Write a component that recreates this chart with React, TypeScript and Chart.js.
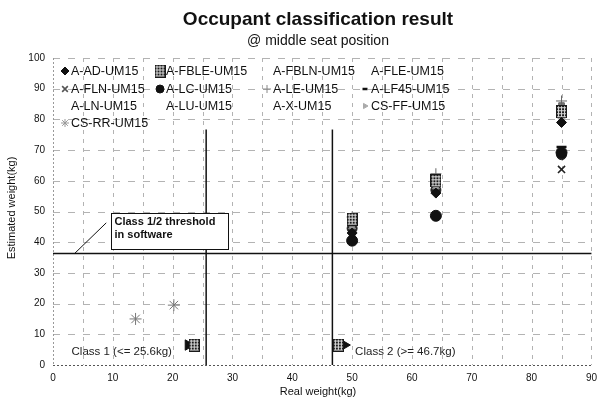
import React, { useEffect, useRef } from 'react';
import { Chart, registerables } from 'chart.js';
import { drawPoint } from 'chart.js/helpers';

Chart.register(...registerables);

// ---------- text ----------
const TITLE = 'Occupant classification result';
const SUBTITLE = '@ middle seat position';
const X_TITLE = 'Real weight(kg)';
const Y_TITLE = 'Estimated weight(kg)';
const NOTE_LINES = ['Class 1/2 threshold', 'in software'];
const CLASS1_TEXT = 'Class 1 (<= 25.6kg)';
const CLASS2_TEXT = 'Class 2 (>= 46.7kg)';

// ---------- axes ----------
const X_MIN = 0;
const X_MAX = 90;
const X_GRID_STEP = 5;
const X_LABEL_STEP = 10;
const Y_MIN = 0;
const Y_MAX = 100;
const Y_STEP = 10;

// ---------- thresholds ----------
const CLASS1_LIMIT = 25.6;
const CLASS2_LIMIT = 46.7;
const SOFTWARE_THRESHOLD = 36.3;
const LIMIT_LINE_TOP = 76.7;

// annotation anchors (data coordinates)
const NOTE_ANCHOR = [9.7, 49.4];
const NOTE_LEADER = [[8.9, 46.3], [3.6, 36.3]];
const CLASS1_ANCHOR = [3.1, 4.2];
const CLASS2_ANCHOR = [50.5, 4.3];

// ---------- series (real weight, estimated weight) ----------
const SERIES_NAMES = [
  'A-AD-UM15', 'A-FBLE-UM15', 'A-FBLN-UM15', 'A-FLE-UM15',
  'A-FLN-UM15', 'A-LC-UM15', 'A-LE-UM15', 'A-LF45-UM15',
  'A-LN-UM15', 'A-LU-UM15', 'A-X-UM15', 'CS-FF-UM15',
  'CS-RR-UM15',
];
const A_AD = [[50, 43], [64, 56], [85, 79]];
const A_FBLE = [[23.6, 6.5], [47.7, 6.5], [50, 47.5], [64, 60], [85, 82.5]];
const A_FBLN = [[50, 46], [64, 59], [85, 83.5]];
const A_FLE = [[50, 45], [64, 58], [85, 81.5]];
const A_FLN = [[50, 44], [64, 57.5], [85, 63.7]];
const A_LC = [[50, 40.5], [64, 48.6], [85, 69.2]];
const A_LE = [[50, 48.2], [64, 62.3], [85, 86]];
const A_LF45 = [[50, 46.5], [64, 61], [85, 71]];
const A_LN = [[50, 45.5], [64, 58.5], [85, 80.5]];
const A_LU = [[50, 44.5], [64, 57], [85, 68.5]];
const A_X = [[50, 42], [64, 59.5], [85, 84.5]];
const CS_FF = [[22.6, 6.5], [48.7, 6.5]];
const CS_RR = [[13.8, 15], [20.2, 19.5]];

const SERIES_DATA = [A_AD, A_FBLE, A_FBLN, A_FLE, A_FLN, A_LC, A_LE, A_LF45, A_LN, A_LU, A_X, CS_FF, CS_RR];

const FONT = '"Liberation Sans", Arial, sans-serif';

function makeHatch(): HTMLCanvasElement {
  const c = document.createElement('canvas');
  c.width = 11;
  c.height = 13;
  const g = c.getContext('2d')!;
  g.fillStyle = '#1a1a1a';
  g.fillRect(0, 0, 11, 13);
  g.fillStyle = '#dcdcdc';
  for (let x = 2; x < 11; x += 3) g.fillRect(x, 1, 1, 11);
  for (let y = 2; y < 13; y += 3) g.fillRect(1, y, 9, 1);
  return c;
}

type Sty = { pointStyle: any; radius: number; fill: string; stroke: string; bw: number; rotation?: number; legend: boolean; lr?: number; lcolor?: string };

function styles(hatch: HTMLCanvasElement): Sty[] {
  return [
    { pointStyle: 'rectRot', radius: 5, fill: '#111', stroke: '#111', bw: 1, legend: true, lr: 4 },
    { pointStyle: hatch, radius: 6, fill: '#111', stroke: '#111', bw: 1, legend: true },
    { pointStyle: 'rect', radius: 3.5, fill: '#8a8a8a', stroke: '#777', bw: 1, legend: false },
    { pointStyle: 'triangle', radius: 4, fill: '#9a9a9a', stroke: '#888', bw: 1, legend: false },
    { pointStyle: 'crossRot', radius: 5, fill: '#222', stroke: '#222', bw: 1.6, legend: true, lr: 4, lcolor: '#555' },
    { pointStyle: 'circle', radius: 5.5, fill: '#111', stroke: '#111', bw: 1, legend: true, lr: 4 },
    { pointStyle: 'cross', radius: 5.5, fill: '#666', stroke: '#666', bw: 1, legend: true, lr: 4, lcolor: '#888' },
    { pointStyle: 'line', radius: 5, fill: '#111', stroke: '#111', bw: 2.5, legend: true, lr: 2.5 },
    { pointStyle: 'rectRot', radius: 4, fill: '#aaa', stroke: '#999', bw: 1, legend: false },
    { pointStyle: 'circle', radius: 5, fill: '#222', stroke: '#222', bw: 1, legend: false },
    { pointStyle: 'rect', radius: 4, fill: '#777', stroke: '#666', bw: 1, legend: false },
    { pointStyle: 'triangle', radius: 6, fill: '#111', stroke: '#111', bw: 1, rotation: 90, legend: true, lr: 3, lcolor: '#aaa' },
    { pointStyle: 'star', radius: 6, fill: '#777', stroke: '#777', bw: 1, legend: true, lr: 4, lcolor: '#999' },
  ];
}

// legend layout (pixels, relative to canvas)
const LEGEND_COL_X = [71, 166, 273, 371];
const LEGEND_ROW_Y = [71, 89, 106, 123];

export default function App() {
  const ref = useRef<HTMLCanvasElement | null>(null);

  useEffect(() => {
    const canvas = ref.current;
    if (!canvas) return;
    const hatch = makeHatch();
    const sty = styles(hatch);

    const datasets = SERIES_NAMES.map((name, i) => ({
      label: name,
      data: SERIES_DATA[i].map(([x, y]) => ({ x, y })),
      showLine: false,
      pointStyle: sty[i].pointStyle,
      pointRadius: sty[i].radius,
      pointRotation: sty[i].rotation || 0,
      backgroundColor: sty[i].fill,
      borderColor: sty[i].stroke,
      pointBorderWidth: sty[i].bw,
    }));

    const decor = {
      id: 'decor',
      beforeDatasetsDraw(chart: any) {
        const { ctx, chartArea: a, scales: { x, y } } = chart;
        ctx.save();
        // dashed grid
        ctx.strokeStyle = '#b3b3b3';
        ctx.lineWidth = 1;
        ctx.setLineDash([4, 5]);
        for (let v = X_MIN + X_GRID_STEP; v <= X_MAX; v += X_GRID_STEP) {
          const px = Math.round(x.getPixelForValue(v)) + 0.5;
          ctx.beginPath();
          ctx.moveTo(px, a.top);
          ctx.lineTo(px, a.bottom);
          ctx.stroke();
        }
        ctx.setLineDash([7, 8]);
        for (let v = Y_MIN + Y_STEP; v <= Y_MAX; v += Y_STEP) {
          const py = Math.round(y.getPixelForValue(v)) + 0.5;
          ctx.beginPath();
          ctx.moveTo(a.left, py);
          ctx.lineTo(a.right, py);
          ctx.stroke();
        }
        // axis lines (dotted)
        ctx.setLineDash([2, 2]);
        ctx.strokeStyle = '#999';
        const lx = Math.round(a.left) + 0.5;
        ctx.beginPath();
        ctx.moveTo(lx, a.top);
        ctx.lineTo(lx, a.bottom);
        ctx.stroke();
        ctx.strokeStyle = '#555';
        const by = Math.round(a.bottom) + 0.5;
        ctx.beginPath();
        ctx.moveTo(a.left, by);
        ctx.lineTo(a.right, by);
        ctx.stroke();

        // thresholds
        ctx.setLineDash([]);
        ctx.strokeStyle = '#111';
        ctx.lineWidth = 1.5;
        [CLASS1_LIMIT, CLASS2_LIMIT].forEach((v) => {
          const px = x.getPixelForValue(v);
          ctx.beginPath();
          ctx.moveTo(px, y.getPixelForValue(LIMIT_LINE_TOP));
          ctx.lineTo(px, y.getPixelForValue(Y_MIN));
          ctx.stroke();
        });
        const ty = y.getPixelForValue(SOFTWARE_THRESHOLD);
        ctx.beginPath();
        ctx.moveTo(a.left, ty);
        ctx.lineTo(a.right, ty);
        ctx.stroke();
        ctx.restore();
      },
      afterDatasetsDraw(chart: any) {
        const { ctx, scales: { x, y } } = chart;
        ctx.save();
        ctx.strokeStyle = '#111';
        ctx.lineWidth = 1;
        ctx.beginPath();
        ctx.moveTo(x.getPixelForValue(NOTE_LEADER[0][0]), y.getPixelForValue(NOTE_LEADER[0][1]));
        ctx.lineTo(x.getPixelForValue(NOTE_LEADER[1][0]), y.getPixelForValue(NOTE_LEADER[1][1]));
        ctx.stroke();
        const bx = Math.round(x.getPixelForValue(NOTE_ANCHOR[0])) + 0.5;
        const by = Math.round(y.getPixelForValue(NOTE_ANCHOR[1])) + 0.5;
        const bw = 117, bh = 36;
        ctx.fillStyle = '#fff';
        ctx.fillRect(bx, by, bw, bh);
        ctx.strokeRect(bx, by, bw, bh);
        ctx.fillStyle = '#111';
        ctx.font = `bold 11px ${FONT}`;
        ctx.textBaseline = 'middle';
        ctx.textAlign = 'left';
        NOTE_LINES.forEach((t, i) => ctx.fillText(t, bx + 3, by + 8 + i * 13.3));
        ctx.font = `11.5px ${FONT}`;
        ctx.fillStyle = '#222';
        ctx.fillText(CLASS1_TEXT, x.getPixelForValue(CLASS1_ANCHOR[0]), y.getPixelForValue(CLASS1_ANCHOR[1]));
        ctx.fillText(CLASS2_TEXT, x.getPixelForValue(CLASS2_ANCHOR[0]), y.getPixelForValue(CLASS2_ANCHOR[1]));
        ctx.restore();
      },
      afterDraw(chart: any) {
        const { ctx } = chart;
        ctx.save();
        ctx.fillStyle = '#111';
        ctx.textAlign = 'center';
        ctx.textBaseline = 'middle';
        ctx.font = `bold 19px ${FONT}`;
        ctx.fillText(TITLE, 318, 20);
        ctx.font = `14px ${FONT}`;
        ctx.fillText(SUBTITLE, 318, 41);
        ctx.font = `11px ${FONT}`;
        ctx.fillText(X_TITLE, 318, 392);
        ctx.save();
        ctx.translate(12, 208);
        ctx.rotate(-Math.PI / 2);
        ctx.fillText(Y_TITLE, 0, 0);
        ctx.restore();
        ctx.textAlign = 'left';
        ctx.font = `12.5px ${FONT}`;
        SERIES_NAMES.forEach((name, i) => {
          const col = i % 4;
          const row = Math.floor(i / 4);
          const tx = LEGEND_COL_X[col];
          const ty = LEGEND_ROW_Y[row];
          const s = sty[i];
          if (s.legend) {
            const c = s.lcolor || s.fill;
            ctx.fillStyle = c;
            ctx.strokeStyle = c;
            ctx.lineWidth = s.bw;
            drawPoint(ctx, { pointStyle: s.pointStyle, radius: s.lr || s.radius * 0.8, rotation: s.rotation || 0, borderWidth: s.bw } as any, tx - 6, ty);
          }
          ctx.fillStyle = '#111';
          ctx.fillText(name, tx, ty + 0.5);
        });
        ctx.restore();
      },
    };

    const chart = new Chart(canvas, {
      type: 'scatter',
      data: { datasets } as any,
      options: {
        responsive: false,
        animation: false,
        layout: { padding: { top: 58, left: 0, right: 0, bottom: 0 } },
        plugins: {
          legend: { display: false },
          title: { display: false },
          tooltip: { enabled: false },
        },
        scales: {
          x: {
            type: 'linear',
            min: X_MIN,
            max: X_MAX,
            afterFit: (s: any) => { s.height = 34; },
            ticks: {
              stepSize: X_LABEL_STEP,
              autoSkip: false,
              maxRotation: 0,
              padding: 7,
              color: '#111',
              font: { family: FONT, size: 10 },
            },
            grid: { display: false, drawTicks: false },
            border: { display: false },
          },
          y: {
            type: 'linear',
            min: Y_MIN,
            max: Y_MAX,
            afterFit: (s: any) => { s.width = 53; },
            ticks: {
              stepSize: Y_STEP,
              padding: 8,
              color: '#111',
              font: { family: FONT, size: 10 },
            },
            grid: { display: false, drawTicks: false },
            border: { display: false },
          },
        },
      } as any,
      plugins: [decor],
    });
    return () => chart.destroy();
  }, []);

  return (
    <div style={{ position: 'fixed', left: 0, top: 0, width: 597, height: 399, overflow: 'hidden', background: '#fff' }}>
      <canvas ref={ref} width={604} height={399} style={{ display: 'block' }} />
    </div>
  );
}
